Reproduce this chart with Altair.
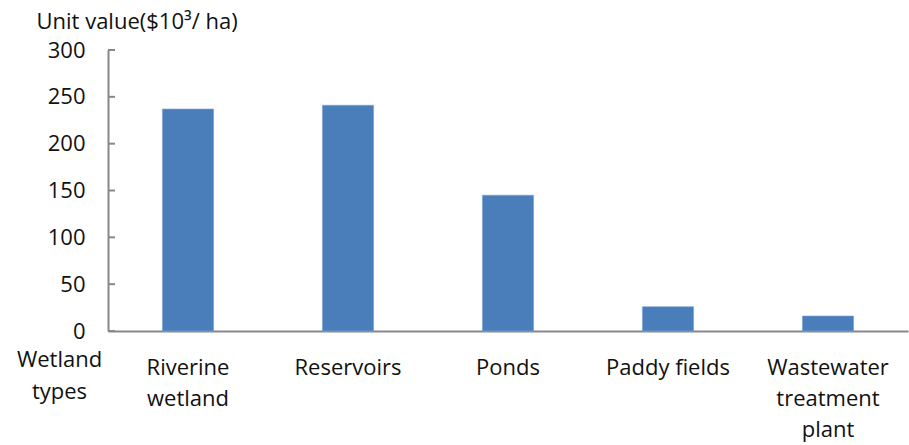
import altair as alt
import pandas as pd

categories = ["Riverine|wetland", "Reservoirs", "Ponds", "Paddy fields", "Wastewater|treatment|plant"]
values = [237, 241, 145, 26, 16]
y_ticks = [0, 50, 100, 150, 200, 250, 300]

df = pd.DataFrame({"type": categories, "value": values})
ticks_df = pd.DataFrame({"t": y_ticks})

FONT = "Open Sans"
FS = 22
y_scale = alt.Scale(domain=[0, 300], nice=False)

bars = alt.Chart(df).mark_bar(color="#4A7EBB", stroke="#7FA3D4", strokeWidth=0.6).encode(
    x=alt.X(
        "type:N",
        sort=categories,
        scale=alt.Scale(paddingInner=0.68, paddingOuter=0.34),
        axis=alt.Axis(
            title=["Wetland", "types"],
            titleX=-49, titleY=28, titleAlign="center", titleBaseline="middle",
            titleAngle=0,
            titleFont=FONT, titleFontSize=FS, titleFontWeight="normal",
            titleColor="#111", titleLineHeight=32,
            labelExpr="split(datum.label, '|')",
            labelAngle=0, labelFont=FONT, labelFontSize=FS, labelColor="#111",
            labelPadding=36, labelLineHeight=31, labelBaseline="middle",
            ticks=False, domainColor="#888888", domainWidth=2,
        ),
    ),
    y=alt.Y(
        "value:Q",
        scale=y_scale,
        axis=alt.Axis(
            title="Unit value($10³/ ha)",
            titleAngle=0, titleX=-72, titleY=-29, titleAlign="left",
            titleBaseline="middle", titleFont=FONT, titleFontSize=FS,
            titleFontWeight="normal", titleColor="#111",
            values=y_ticks, grid=False, ticks=False,
            labelFont=FONT, labelFontSize=FS, labelColor="#111", labelPadding=23,
            domainColor="#888888", domainWidth=2,
        ),
    ),
)

tick_marks = alt.Chart(ticks_df).mark_rule(color="#888888", strokeWidth=2).encode(
    y=alt.Y("t:Q", scale=y_scale),
    x=alt.value(0),
    x2=alt.value(7),
)

chart = alt.layer(bars, tick_marks).properties(
    width=800, height=281,
    padding={"left": 108, "top": 50, "right": 1, "bottom": 114},
    autosize=alt.AutoSizeParams(type="none"),
    background="white",
).configure_view(stroke=None)

chart.save("out.html", embed_options={"renderer": "svg", "actions": False})
